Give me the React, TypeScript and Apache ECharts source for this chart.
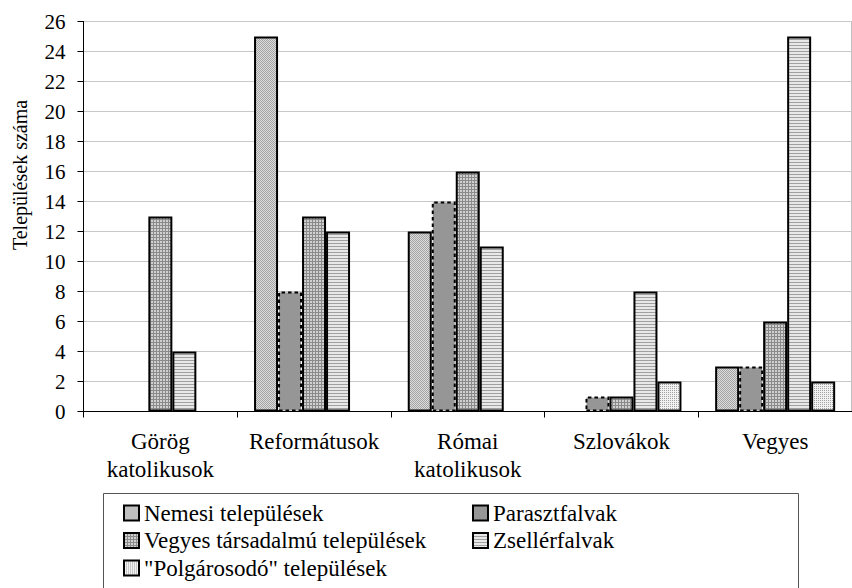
import React, { useEffect, useRef } from "react";
import * as echarts from "echarts";

const categories = ["Görög\nkatolikusok", "Reformátusok", "Római\nkatolikusok", "Szlovákok", "Vegyes"];
const seriesNames = [
  "Nemesi települések",
  "Parasztfalvak",
  "Vegyes társadalmú települések",
  "Zsellérfalvak",
  "\"Polgárosodó\" települések",
];
const nemesi = [0, 25, 12, 0, 3];
const paraszt = [0, 8, 14, 1, 3];
const vegyesTars = [13, 13, 16, 1, 6];
const zseller = [4, 12, 11, 8, 25];
const polgar = [0, 0, 0, 2, 2];
const yMin = 0;
const yMax = 26;
const yInterval = 2;
const yAxisTitle = "Települések száma";

const FONT = "Liberation Serif";

function makePattern(grid: string[][]) {
  const h = grid.length;
  const w = grid[0].length;
  const c = document.createElement("canvas");
  c.width = w;
  c.height = h;
  const ctx = c.getContext("2d")!;
  for (let y = 0; y < h; y++) {
    for (let x = 0; x < w; x++) {
      ctx.fillStyle = grid[y][x];
      ctx.fillRect(x, y, 1, 1);
    }
  }
  return { image: c, repeat: "repeat", imageWidth: w, imageHeight: h } as any;
}

export default function App() {
  const ref = useRef<HTMLDivElement>(null);
  useEffect(() => {
    if (!ref.current) return;
    const chart = echarts.init(ref.current, null, { renderer: "svg" });

    const A = "#a4a4a4", B = "#dcdcdc";
    const pNemesi = makePattern([[A, B], [B, A]]);
    const D = "#8a8a8a", L = "#d0d0d0";
    const pVegyes = makePattern([[D, D, D], [D, L, L], [D, L, L]]);
    const S = "#a0a0a0", W = "#e8e8e8";
    const pZseller = makePattern([[S], [W], [W]]);
    const P = "#a0a0a0", Q = "#f2f2f2";
    const pPolgar = makePattern([[P, Q], [Q, Q]]);

    const values = [nemesi, paraszt, vegyesTars, zseller, polgar];
    const fills: any[] = [pNemesi, "#969696", pVegyes, pZseller, pPolgar];

    const series = values.map((arr, i) => ({
      name: seriesNames[i],
      type: "bar",
      barWidth: 24,
      barGap: "0%",
      data: arr.map((v) => (v === 0 ? "-" : v)),
      itemStyle: {
        color: fills[i],
        borderColor: "#000",
        borderWidth: 2,
        borderType: i === 1 ? [3.5, 3] : "solid",
      },
      emphasis: { disabled: true },
    }));

    const legendText = { fontFamily: FONT, fontSize: 23, color: "#000", lineHeight: 22 };
    const legendCommon = {
      orient: "vertical",
      top: 501.5,
      height: 120,
      padding: 0,
      itemWidth: 15,
      itemHeight: 15,
      itemGap: 4.5,
      icon: "rect",
      selectedMode: false,
      textStyle: legendText,
    };

    chart.setOption({
      animation: false,
      textStyle: { fontFamily: FONT },
      grid: { left: 83.5, top: 21.5, right: -8, bottom: 176.5, show: true, borderColor: "#808080", borderWidth: 1 },
      xAxis: {
        type: "category",
        data: categories,
        axisLine: { lineStyle: { color: "#000", width: 1 } },
        axisTick: { show: true, length: 6, lineStyle: { color: "#000" } },
        axisLabel: { interval: 0, fontFamily: FONT, fontSize: 23, color: "#000", lineHeight: 28, margin: 16 },
      },
      yAxis: {
        type: "value",
        min: yMin,
        max: yMax,
        interval: yInterval,
        axisLine: { show: true, lineStyle: { color: "#000", width: 1 } },
        axisTick: { show: true, length: 6, lineStyle: { color: "#000" } },
        axisLabel: { fontFamily: FONT, fontSize: 21, color: "#000", margin: 18 },
        splitLine: { show: true, lineStyle: { color: "#c8c8c8", width: 1 } },
      },
      legend: [
        { ...legendCommon, left: 123, data: [seriesNames[0], seriesNames[2], seriesNames[4]] },
        { ...legendCommon, left: 472, data: [seriesNames[1], seriesNames[3]] },
      ],
      graphic: [
        {
          type: "rect",
          shape: { x: 103.5, y: 493.5, width: 695, height: 110 },
          style: { fill: "none", stroke: "#555", lineWidth: 1 },
          silent: true,
        },
        {
          type: "text",
          x: 20,
          y: 175,
          rotation: Math.PI / 2,
          style: {
            text: yAxisTitle,
            fontFamily: FONT,
            fontSize: 20,
            fill: "#000",
            align: "center",
            verticalAlign: "middle",
          },
          silent: true,
        },
      ],
      series,
    });
    return () => chart.dispose();
  }, []);
  return (
    <div
      ref={ref}
      style={{ position: "absolute", left: 0, top: 0, width: 852, height: 588, background: "#fff" }}
    />
  );
}
